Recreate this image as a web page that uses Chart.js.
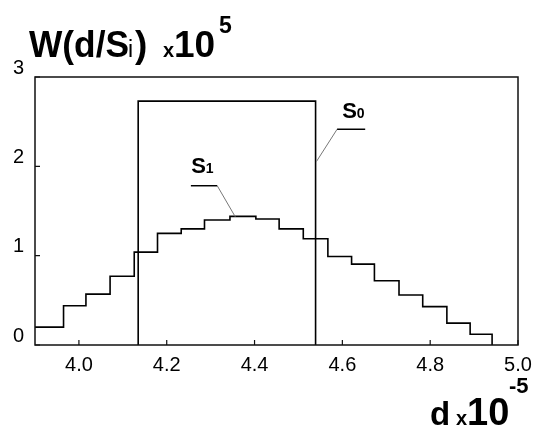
<!DOCTYPE html>
<html>
<head>
<meta charset="utf-8">
<script src="https://cdn.jsdelivr.net/npm/chart.js@4.4.0/dist/chart.umd.min.js"></script>
<style>
  html, body { margin: 0; padding: 0; background: #fff; }
  #wrap { width: 533px; height: 429px; }
</style>
</head>
<body>
<div id="wrap"><canvas id="chart" width="533" height="429"></canvas></div>
<script>
// S1 histogram: bin edges (d, x1e-5) and bin heights (W, x1e5)
const s1Edges = [3.9, 3.965, 4.016, 4.071, 4.126, 4.179, 4.233, 4.286, 4.344, 4.403, 4.456,
                 4.511, 4.567, 4.621, 4.673, 4.729, 4.783, 4.838, 4.891, 4.941];
const s1Values = [0.20, 0.44, 0.57, 0.77, 1.04, 1.25, 1.30, 1.40, 1.44, 1.41,
                  1.30, 1.19, 0.99, 0.905, 0.72, 0.56, 0.43, 0.245, 0.12];

// S0: one flat bin
const s0Edges = [4.135, 4.539];
const s0Value = 2.73;

const xTicks = [4.0, 4.2, 4.4, 4.6, 4.8, 5.0];
const yTicks = [0, 1, 2, 3];

const FONT = "'Liberation Sans', Arial, Helvetica, sans-serif";

// step points: each point starts a bin, last one closes it back to zero
const s1Points = s1Edges.map((x, i) => ({ x: x, y: i < s1Values.length ? s1Values[i] : 0 }));
const s0Points = [
  { x: s0Edges[0], y: 0 },
  { x: s0Edges[0], y: s0Value },
  { x: s0Edges[1], y: s0Value },
  { x: s0Edges[1], y: 0 }
];

// text pieces placed one by one (sub/superscripts need their own size)
function drawPieces(ctx, pieces) {
  ctx.save();
  ctx.fillStyle = '#000';
  ctx.textBaseline = 'alphabetic';
  ctx.textAlign = 'left';
  pieces.forEach(p => {
    ctx.font = (p.bold ? 'bold ' : '') + p.size + 'px ' + FONT;
    if (p.w) ctx.fillText(p.t, p.x, p.y, p.w);
    else ctx.fillText(p.t, p.x, p.y);
  });
  ctx.restore();
}

const framePlugin = {
  id: 'frame',
  afterDraw(chart) {
    const ctx = chart.ctx;
    const a = chart.chartArea;
    const xs = chart.scales.x, ys = chart.scales.y;
    ctx.save();
    ctx.strokeStyle = '#111';
    ctx.lineWidth = 1.5;
    ctx.strokeRect(a.left, a.top, a.right - a.left, a.bottom - a.top);

    // short inner tick marks on left and bottom
    ctx.lineWidth = 1.2;
    ctx.beginPath();
    xTicks.forEach(v => {
      const px = xs.getPixelForValue(v);
      ctx.moveTo(px, a.bottom);
      ctx.lineTo(px, a.bottom - 5);
    });
    yTicks.forEach(v => {
      const py = ys.getPixelForValue(v);
      ctx.moveTo(a.left, py);
      ctx.lineTo(a.left + 5, py);
    });
    ctx.stroke();

    // curve labels with leader lines
    const opts = chart.options.plugins.frame;
    opts.labels.forEach(l => {
      const pts = l.leader.map(p => [xs.getPixelForValue(p[0]), ys.getPixelForValue(p[1])]);
      ctx.strokeStyle = '#777';
      ctx.lineWidth = 1;
      ctx.beginPath();
      ctx.moveTo(pts[0][0], pts[0][1]);
      ctx.lineTo(pts[1][0], pts[1][1]);
      ctx.stroke();
      ctx.strokeStyle = '#000';
      ctx.lineWidth = 1.5;
      ctx.beginPath();
      ctx.moveTo(pts[1][0], pts[1][1]);
      ctx.lineTo(pts[2][0], pts[2][1]);
      ctx.stroke();
      const tx = xs.getPixelForValue(l.at[0]), ty = ys.getPixelForValue(l.at[1]);
      drawPieces(ctx, [
        { t: 'S', size: 22, bold: true, x: tx, y: ty },
        { t: l.sub, size: 14, bold: true, x: tx + 14.5, y: ty }
      ]);
    });

    // axis titles
    drawPieces(ctx, [
      { t: 'W(d/S', size: 37, bold: true, x: 29, y: 57, w: 100 },
      { t: 'i', size: 23, x: 128, y: 57 },
      { t: ')', size: 37, bold: true, x: 135, y: 57 },
      { t: 'x', size: 20, bold: true, x: 163, y: 57 },
      { t: '10', size: 37, bold: true, x: 174, y: 57 },
      { t: '5', size: 23, bold: true, x: 219, y: 33 }
    ]);
    drawPieces(ctx, [
      { t: 'd', size: 33, bold: true, x: 430, y: 425 },
      { t: 'x', size: 20, bold: true, x: 456, y: 425 },
      { t: '10', size: 38, bold: true, x: 467, y: 425 },
      { t: '-5', size: 22, bold: true, x: 509, y: 393 }
    ]);
    ctx.restore();
  }
};

new Chart(document.getElementById('chart'), {
  type: 'line',
  data: {
    datasets: [
      {
        label: 'S1',
        data: s1Points,
        stepped: true,
        borderColor: '#000',
        borderWidth: 1.6,
        pointRadius: 0,
        fill: false
      },
      {
        label: 'S0',
        data: s0Points,
        borderColor: '#000',
        borderWidth: 1.6,
        pointRadius: 0,
        fill: false
      }
    ]
  },
  options: {
    responsive: false,
    animation: false,
    events: [],
    layout: { padding: { left: 0, top: 77, right: 15, bottom: 44 } },
    plugins: {
      legend: { display: false },
      tooltip: { enabled: false },
      frame: {
        labels: [
          { sub: '0', at: [4.600, 2.538], leader: [[4.541, 2.054], [4.588, 2.415], [4.652, 2.415]] },
          { sub: '1', at: [4.256, 1.922], leader: [[4.356, 1.436], [4.315, 1.783], [4.255, 1.783]] }
        ]
      }
    },
    scales: {
      x: {
        type: 'linear',
        min: 3.9,
        max: 5.0,
        afterBuildTicks: s => { s.ticks = xTicks.map(v => ({ value: v })); },
        afterFit: s => { s.height = 40; s.paddingLeft = 0; s.paddingRight = 0; },
        grid: { display: false, drawTicks: false },
        border: { display: false },
        ticks: {
          autoSkip: false,
          maxRotation: 0,
          padding: 8,
          color: '#000',
          font: { family: FONT, size: 20 },
          callback: v => v.toFixed(1)
        }
      },
      y: {
        type: 'linear',
        min: 0,
        max: 3,
        afterBuildTicks: s => { s.ticks = yTicks.map(v => ({ value: v })); },
        afterFit: s => { s.width = 35; s.paddingTop = 0; s.paddingBottom = 0; },
        grid: { display: false, drawTicks: false },
        border: { display: false },
        ticks: {
          padding: 11,
          labelOffset: -9,
          color: '#000',
          font: { family: FONT, size: 20 },
          callback: v => String(v)
        }
      }
    }
  },
  plugins: [framePlugin]
});
</script>
</body>
</html>
